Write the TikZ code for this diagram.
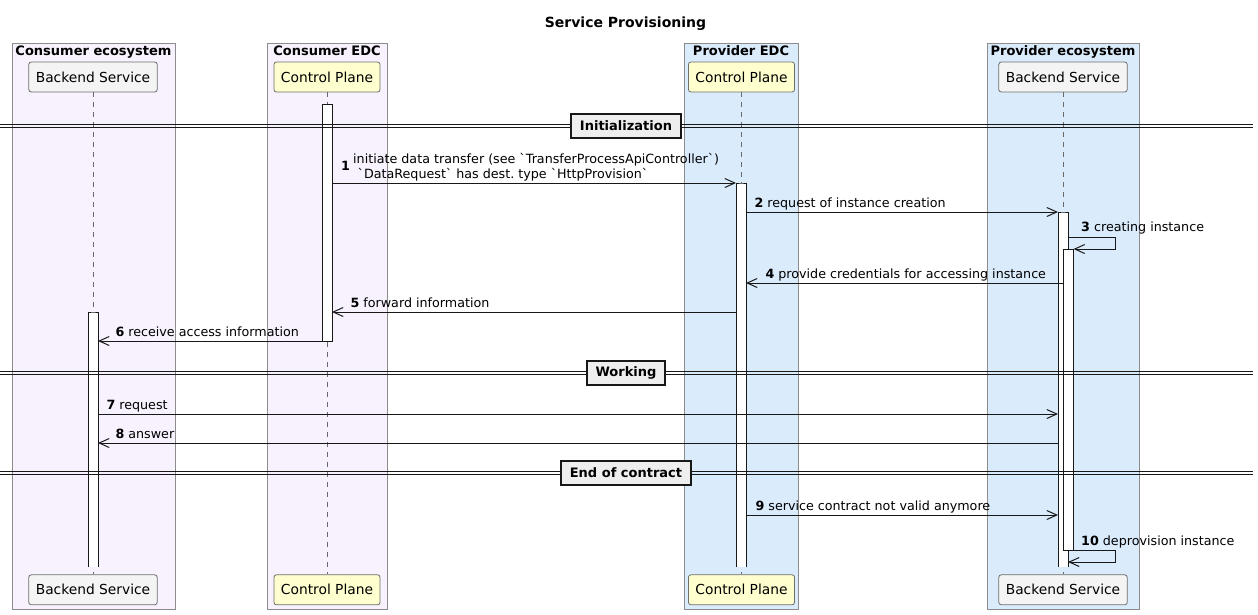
\documentclass[tikz,border=0pt]{standalone}
\usepackage{fontspec}
\setmainfont{DejaVu Sans}[Ligatures=TeXOff]
\usetikzlibrary{arrows.meta,positioning}
\frenchspacing

\definecolor{consumerbg}{HTML}{F7F2FD}
\definecolor{providerbg}{HTML}{DAEBFC}
\definecolor{grpline}{HTML}{8C8C8C}
\definecolor{partgray}{HTML}{F4F4F4}
\definecolor{partyellow}{HTML}{FEFECE}
\definecolor{partline}{HTML}{6E6E6E}
\definecolor{ink}{HTML}{181818}
\definecolor{sepfill}{HTML}{EEEEEE}

\newcommand{\msgfont}{\fontsize{12.7}{15}\selectfont}
\newcommand{\partfont}{\fontsize{13.8}{16}\selectfont}
\newcommand{\grpfont}{\fontsize{13}{15}\selectfont\bfseries}
\newcommand{\titlefont}{\fontsize{14}{16}\selectfont\bfseries}

\tikzset{
  grpbox/.style={draw=grpline, line width=1pt},
  grptitle/.style={font=\grpfont, inner sep=0pt, anchor=base},
  part/.style={draw=partline, line width=0.8pt, rounded corners=2.5pt,
    minimum height=30pt, inner xsep=7pt, font=\partfont},
  lifeline/.style={draw=ink!65, line width=0.7pt, dash pattern=on 5pt off 5pt},
  act/.style={fill=white, draw=ink, line width=1pt, minimum width=10pt,
    inner sep=0pt, outer sep=0pt, anchor=north},
  actside/.style={draw=ink, line width=1pt},
  msg/.style={draw=ink, line width=1pt, -{Straight Barb[length=10pt,width=9pt]}},
  lbl/.style={anchor=base west, inner sep=0pt, font=\msgfont},
  sepbox/.style={fill=sepfill, draw=ink, line width=2pt, font=\grpfont,
    minimum height=24pt, inner xsep=9pt, inner ysep=0pt},
}

\begin{document}
\begin{tikzpicture}[x=1pt, y=-1pt, font=\msgfont]
    \useasboundingbox (0,0) rectangle (1258,614);

    % title and boxes
    \node[font=\titlefont, inner sep=0pt, anchor=base] (title) at (625.5,27) {Service Provisioning};
    \draw[grpbox, fill=consumerbg] (12,43) rectangle (175,609);
    \draw[grpbox, fill=consumerbg] (267,43) rectangle (387,609);
    \draw[grpbox, fill=providerbg] (684,43) rectangle (798,609);
    \draw[grpbox, fill=providerbg] (987,43) rectangle (1139,609);
    \node[grptitle] (tConsEco) at (93.5,55) {Consumer ecosystem};
    \node[grptitle] (tConsEdc) at (327,55) {Consumer EDC};
    \node[grptitle] (tProvEdc) at (741,55) {Provider EDC};
    \node[grptitle] (tProvEco) at (1063,55) {Provider ecosystem};

    % participants
    \node[part, fill=partgray] (bsC) at (93,77) {Backend Service};
    \node[part, fill=partyellow] (cpC) at (327,77) {Control Plane};
    \node[part, fill=partyellow] (cpP) at (741.5,77) {Control Plane};
    \node[part, fill=partgray] (bsP) at (1063,77) {Backend Service};
    \node[part, fill=partgray, below=482pt of bsC] (bsCb) {Backend Service};
    \node[part, fill=partyellow, below=482pt of cpC] (cpCb) {Control Plane};
    \node[part, fill=partyellow, below=482pt of cpP] (cpPb) {Control Plane};
    \node[part, fill=partgray, below=482pt of bsP] (bsPb) {Backend Service};

    \draw[lifeline] (bsC) -- (bsCb);
    \draw[lifeline] (cpC) -- (cpCb);
    \draw[lifeline] (cpP) -- (cpPb);
    \draw[lifeline] (bsP) -- (bsPb);

    % activations
    \node[act, minimum height=237] (actCP) at (327,104) {};
    \node[act, draw=none, minimum height=384] (actPP) at (741,183) {};
    \node[act, draw=none, minimum height=255] (actCB) at (93,312) {};
    \node[act, draw=none, minimum height=355] (actPB1) at (1063,212) {};
    \foreach \a in {actPP,actCB,actPB1}
        \draw[actside] (\a.south west) |- (\a.north) -| (\a.south east);
    \node[act, minimum height=301] (actPB2) at (1068.5,249) {};

    % messages
    \draw[msg] (actCP.east |- 0,183) -- (actPP.north west);
    \node[lbl] (n1) at (341,170) {\textbf{1}};
    \node[lbl] (l1a) at (353,163) {initiate data transfer (see `TransferProcessApiController`)};
    \node[lbl] (l1b) at (357.5,178) {`DataRequest` has dest. type `HttpProvision`};

    \draw[msg] (actPP.east |- 0,212) -- (actPB1.north west)
        node[lbl, pos=0, xshift=8pt, yshift=5pt] (l2) {\textbf{2} request of instance creation};
    \draw[msg] (actPB1.east |- 0,237) -- ++(47,0) |- (actPB2.north east);
    \node[lbl] (l3) at (1081,231) {\textbf{3} creating instance};
    \draw[msg] (actPB2.west |- 0,283) -- (actPP.east |- 0,283)
        node[lbl, pos=1, xshift=19pt, yshift=5pt] (l4) {\textbf{4} provide credentials for accessing instance};
    \draw[msg] (actPP.west |- 0,312) -- (actCP.east |- 0,312)
        node[lbl, pos=1, xshift=18pt, yshift=5pt] (l5) {\textbf{5} forward information};
    \draw[msg] (actCP.south west) -- (actCB.east |- 0,341)
        node[lbl, pos=1, xshift=17pt, yshift=5pt] (l6) {\textbf{6} receive access information};
    \draw[msg] (actCB.east |- 0,414) -- (actPB1.west |- 0,414)
        node[lbl, pos=0, xshift=8pt, yshift=5pt] (l7) {\textbf{7} request};
    \draw[msg] (actPB1.west |- 0,443) -- (actCB.east |- 0,443)
        node[lbl, pos=1, xshift=17pt, yshift=5pt] (l8) {\textbf{8} answer};
    \draw[msg] (actPP.east |- 0,515) -- (actPB1.west |- 0,515)
        node[lbl, pos=0, xshift=9pt, yshift=5pt] (l9) {\textbf{9} service contract not valid anymore};
    \draw[msg] (actPB2.south east) -- ++(42,0) |- (actPB1.east |- 0,562);
    \node[lbl] (l10) at (1081,545) {\textbf{10} deprovision instance};

    % dividers
    \foreach \yy/\txt/\nm in {125.5/Initialization/dInit, 372.5/Working/dWork, 472.5/End of contract/dEnd} {
        \draw[ink, line width=1pt] (0,\yy-1.5) -- (1253,\yy-1.5) (0,\yy+1.5) -- (1253,\yy+1.5);
        \node[sepbox] (\nm) at (626,\yy) {\txt};
    }
\end{tikzpicture}
\end{document}
